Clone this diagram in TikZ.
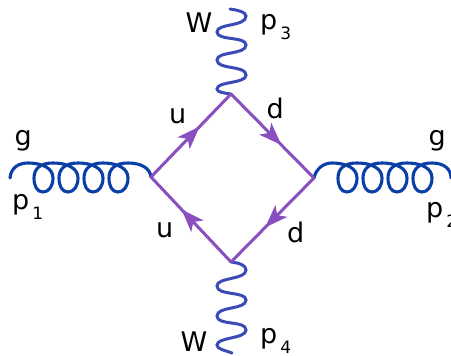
\documentclass[tikz,border=0pt]{standalone}
\usepackage{fontspec}
\setmainfont{DejaVu Sans}
\usetikzlibrary{arrows.meta,decorations.markings}
\definecolor{quark}{HTML}{8A4FBE}
\definecolor{gluon}{HTML}{0B3FA8}
\definecolor{wboson}{HTML}{3A4BB8}
\newcommand{\coilturn}{%
  .. controls +(14,0) and +(0,-10) .. ++(25,15)
  .. controls +(0,8) and +(6,0) .. ++(-10,14)
  .. controls +(-6,0) and +(0,8) .. ++(-9,-14)
  .. controls +(0,-10) and +(-12,0) .. ++(19,-15)}
\newcommand{\subsc}[1]{\kern3pt\raisebox{-10pt}{\fontsize{17}{17}\selectfont #1}}
\tikzset{
  x=1pt,y=-1pt,
  lbl/.style={inner sep=0pt,anchor=base west,text=black,font=\fontsize{27}{27}\selectfont},
  gl/.style={draw=gluon,line width=3.1pt,line cap=round},
  wb/.style={draw=wboson,line width=3pt,line cap=round},
  qk/.style={draw=quark,line width=3pt,postaction={decorate},
    decoration={markings,mark=at position #1 with {\fill[quark] (2,0) -- (-21,8.5) -- (-15,0) -- (-21,-8.5) -- cycle;}}},
}
\begin{document}
\begin{tikzpicture}
\useasboundingbox (0,0) rectangle (451,356);
\coordinate (vL) at (151,177);
\coordinate (vT) at (231,94);
\coordinate (vR) at (314,178);
\coordinate (vB) at (231,262);
\coordinate (gL) at (10,178);
\coordinate (gR) at (451,178);
\coordinate (wT) at (230,9);
\coordinate (wB) at (232,353);
% gluons
\draw[gl] (gL) .. controls +(1,-10) and +(-10,0) .. (28,163)
  \coilturn \coilturn \coilturn \coilturn
  .. controls +(13,0) and +(-1,-9) .. (vL);
\draw[gl] (vR) .. controls +(2,-9) and +(-9,0) .. (332,163)
  \coilturn \coilturn \coilturn \coilturn
  .. controls +(12,0) and +(0,-9) .. (gR);
% W bosons
\draw[wb] (wT) .. controls +(7,1) and +(0,-4) .. (246,16)
  .. controls +(0,11) and +(0,-9) .. (217,32)
  .. controls +(0,9) and +(0,-9) .. (246,45)
  .. controls +(0,10) and +(0,-9) .. (217,60)
  .. controls +(0,10) and +(0,-10) .. (246,75)
  .. controls +(0,9) and +(0,-8) .. (217,89)
  .. controls +(0,3) and +(-8,-1) .. (vT);
\draw[wb] (vB) .. controls +(8,1) and +(0,-5) .. (246,270)
  .. controls +(0,10) and +(0,-9) .. (217,286)
  .. controls +(0,10) and +(0,-9) .. (246,300)
  .. controls +(0,10) and +(0,-10) .. (217,316)
  .. controls +(0,10) and +(0,-10) .. (246,330)
  .. controls +(0,9) and +(0,-8) .. (217,345)
  .. controls +(0,4) and +(-8,-3) .. (wB);
% quarks
\draw[qk=0.59] (vL) -- (vT);
\draw[qk=0.59] (vT) -- (vR);
\draw[qk=0.57] (vR) -- (vB);
\draw[qk=0.60] (vB) -- (vL);
% labels
\node[lbl] (lg1) at (14.5,145) {g};
\node[lbl] (lp1) at (12,209) {p\subsc{1}};
\node[lbl] (lg2) at (428.5,145) {g};
\node[lbl] (lp2) at (426,217) {p\subsc{2}};
\node[lbl] (lw1) at (185.5,32) {W};
\node[lbl] (lp3) at (260,29) {p\subsc{3}};
\node[lbl] (lw2) at (180.5,351) {W};
\node[lbl] (lp4) at (260,343) {p\subsc{4}};
\node[lbl] (lu1) at (169,123) {u};
\node[lbl] (ld1) at (266.5,118) {d};
\node[lbl] (lu2) at (156,237) {u};
\node[lbl] (ld2) at (287,242) {d};
\end{tikzpicture}
\end{document}
